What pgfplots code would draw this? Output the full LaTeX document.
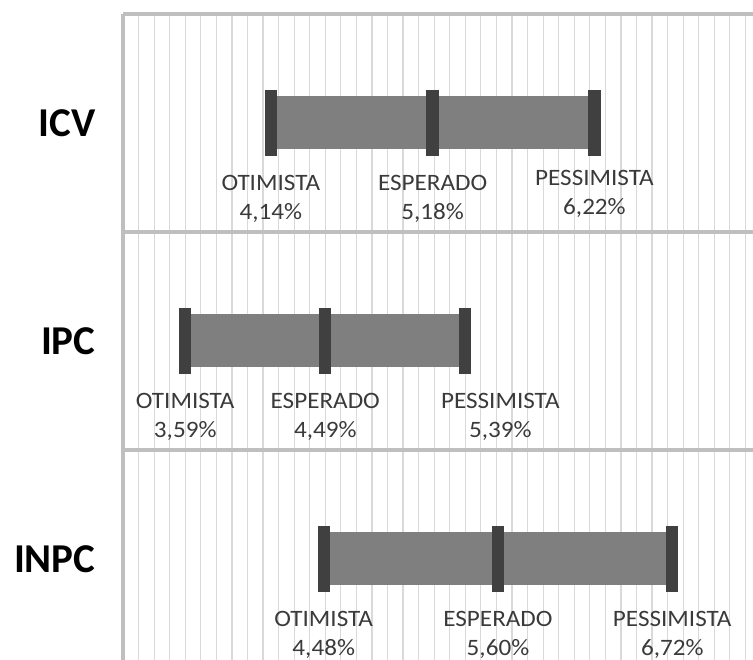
\documentclass[border=0pt]{standalone}
\usepackage{fontspec}
\setmainfont{Carlito}
\newfontfamily\lblfont{Carlito}[FakeStretch=1.07]
\usepackage{pgfplots}
\pgfplotsset{compat=1.18}
\definecolor{gridc}{HTML}{D9D9D9}
\definecolor{borderc}{HTML}{BFBFBF}
\definecolor{barc}{HTML}{7F7F7F}
\definecolor{markc}{HTML}{404040}
\definecolor{txtc}{HTML}{3A3A3A}
\tikzset{lbl/.style={align=center, font=\lblfont\fontsize{23.5}{29}\selectfont, text=txtc, yshift=-76pt}}
\begin{document}
\begin{tikzpicture}
\path[use as bounding box] (0,0) rectangle (753pt,660pt);
\begin{axis}[
  at={(123pt,646pt)}, anchor=north west,
  scale only axis, width=639.5pt, height=654pt,
  xmin=3.19, xmax=7.30, ymin=0, ymax=3,
  clip=false,
  axis x line*=top, axis y line*=left,
  axis line style={borderc, line width=3.5pt},
  xtick={3.29,3.39,...,7.29}, xticklabels={},
  xmajorgrids, x grid style={gridc, line width=1.2pt},
  ytick={1,2}, yticklabels={}, ymajorgrids, y grid style={borderc, line width=3.5pt},
  major tick length=0pt,
  extra y ticks={0.5,1.5,2.5}, extra y tick labels={INPC,IPC,ICV},
  extra y tick style={grid=none, yticklabel style={font=\bfseries\fontsize{41}{41}\selectfont, text=black, anchor=east, xshift=-24pt}},
]
% bars (optimistic to pessimistic)
\addplot[barc, line width=53pt, forget plot] coordinates {(4.14,2.5) (6.22,2.5)};
\addplot[barc, line width=53pt, forget plot] coordinates {(3.59,1.5) (5.39,1.5)};
\addplot[barc, line width=53pt, forget plot] coordinates {(4.48,0.5) (6.72,0.5)};
% markers
\addplot[only marks, mark=|, mark size=33pt, mark options={markc, line width=12.3pt}] coordinates {(4.14,2.5) (5.18,2.5) (6.22,2.5)};
\addplot[only marks, mark=|, mark size=33pt, mark options={markc, line width=12.3pt}] coordinates {(3.59,1.5) (4.49,1.5) (5.39,1.5)};
\addplot[only marks, mark=|, mark size=33pt, mark options={markc, line width=12.3pt}] coordinates {(4.48,0.5) (5.60,0.5) (6.72,0.5)};
% labels
\node[lbl] at (axis cs:4.14,2.5) {OTIMISTA\\4,14\%};
\node[lbl] at (axis cs:5.18,2.5) {ESPERADO\\5,18\%};
\node[lbl, yshift=5pt] at (axis cs:6.22,2.5) {PESSIMISTA\\6,22\%};
\node[lbl] at (axis cs:3.59,1.5) {OTIMISTA\\3,59\%};
\node[lbl] at (axis cs:4.49,1.5) {ESPERADO\\4,49\%};
\node[lbl, xshift=35pt] at (axis cs:5.39,1.5) {PESSIMISTA\\5,39\%};
\node[lbl] at (axis cs:4.48,0.5) {OTIMISTA\\4,48\%};
\node[lbl] at (axis cs:5.60,0.5) {ESPERADO\\5,60\%};
\node[lbl] at (axis cs:6.72,0.5) {PESSIMISTA\\6,72\%};
\end{axis}
\end{tikzpicture}
\end{document}
